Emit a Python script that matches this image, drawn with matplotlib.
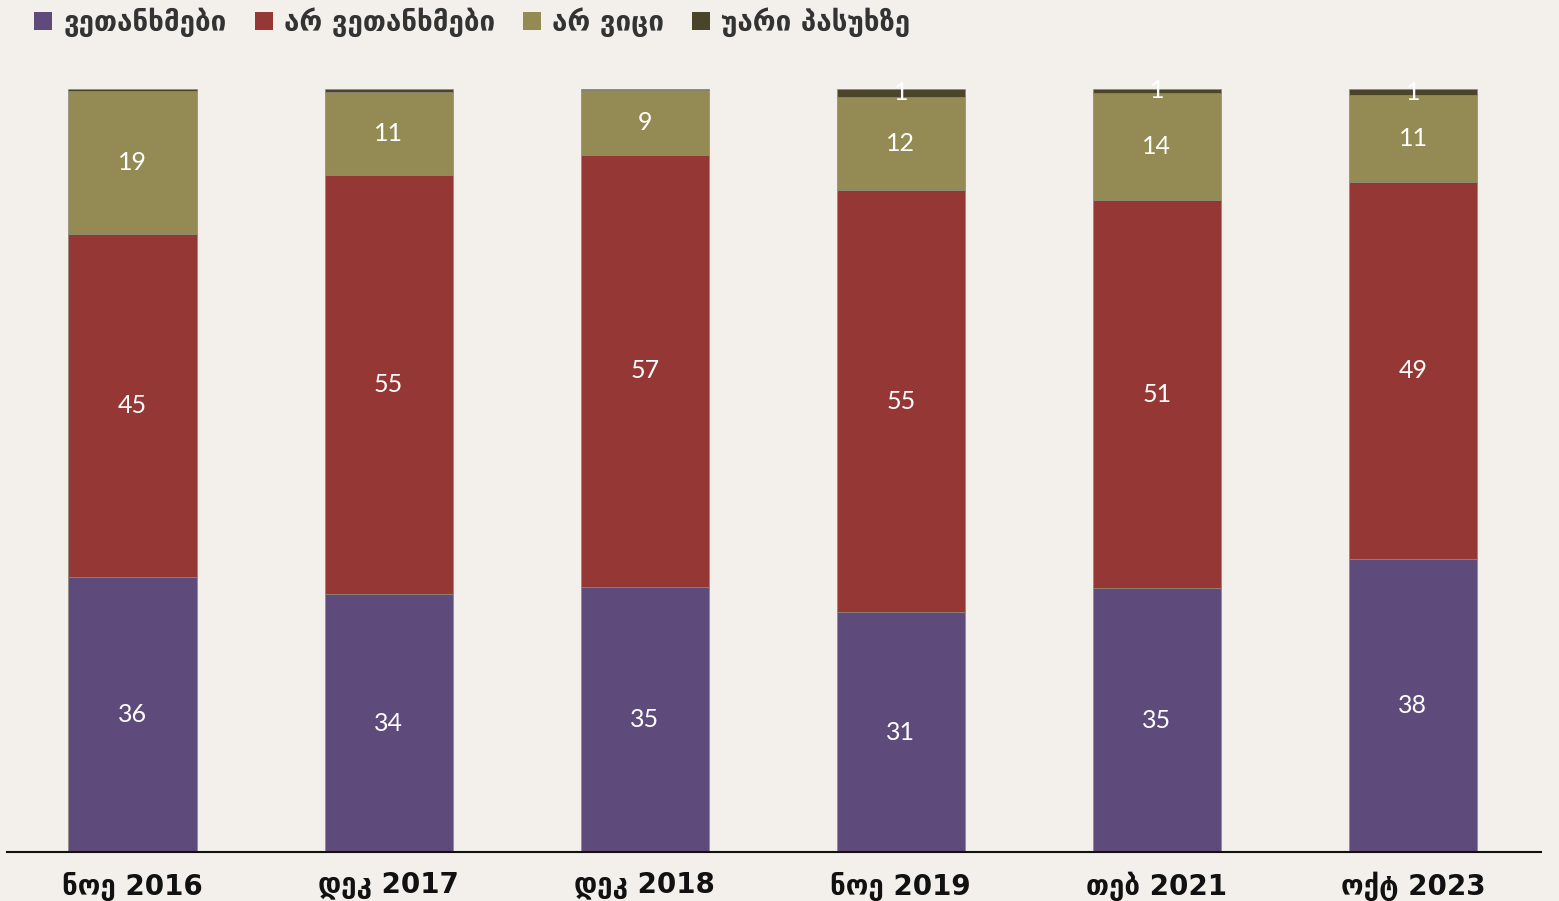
import matplotlib
matplotlib.use("Agg")
import matplotlib.pyplot as plt
from matplotlib.patches import Patch
import numpy as np
import math

categories = ["ნოე 2016", "დეკ 2017", "დეკ 2018", "ნოე 2019", "თებ 2021", "ოქტ 2023"]
series_names = ["ვეთანხმები", "არ ვეთანხმები", "არ ვიცი", "უარი პასუხზე"]
agree = [36.0, 33.8, 34.7, 31.4, 34.6, 38.4]
disagree = [45.0, 54.9, 56.7, 55.4, 50.8, 49.4]
dont_know = [18.8, 10.9, 8.5, 12.2, 14.1, 11.4]
refuse = [0.2, 0.4, 0.1, 1.0, 0.5, 0.8]

colors = ["#5F4B7B", "#953735", "#948A54", "#4A452A"]
bg = "#F3F0EB"

fig = plt.figure(figsize=(15.59, 9.01), dpi=100, facecolor=bg)
ax = fig.add_axes([7/1559, 49/901, (1541-7)/1559, 763/901])
ax.set_facecolor(bg)

x = np.arange(len(categories))
bottom = np.zeros(len(categories))
for vals, col in zip([agree, disagree, dont_know, refuse], colors):
    vals = np.array(vals, dtype=float)
    ax.bar(x, vals, width=0.5, bottom=bottom, color=col, edgecolor="#8a8a7a", linewidth=0.5)
    for xi, b, v in zip(x, bottom, vals):
        r = int(math.floor(v + 0.5))
        if r >= 1:
            ax.text(xi, b + v / 2, str(r), ha="center", va="center",
                    color="white", fontsize=18, family=["Lato", "DejaVu Sans"], clip_on=False)
    bottom += vals

ax.set_xlim(-0.49, 5.5)
ax.set_ylim(0, 100)
ax.set_yticks([])
ax.set_xticks(x)
ax.set_xticklabels(categories, fontsize=20, fontweight="bold",
                   family=["DejaVu Sans"], color="#111111")
ax.tick_params(axis="x", length=0, pad=14)
for s in ["top", "right", "left"]:
    ax.spines[s].set_visible(False)
ax.spines["bottom"].set_linewidth(1.5)
ax.spines["bottom"].set_color("#111111")

handles = [Patch(facecolor=c, edgecolor="none") for c in colors]
fig.legend(handles, series_names, loc="upper left", bbox_to_anchor=(0.006, 1.02), ncol=4,
           frameon=False, handlelength=0.65, handleheight=0.65,
           handletextpad=0.4, columnspacing=1.0, labelcolor="#333333",
           prop={"family": "DejaVu Sans", "weight": "bold", "size": 20})

fig.savefig("out.png", dpi=100, facecolor=bg)
